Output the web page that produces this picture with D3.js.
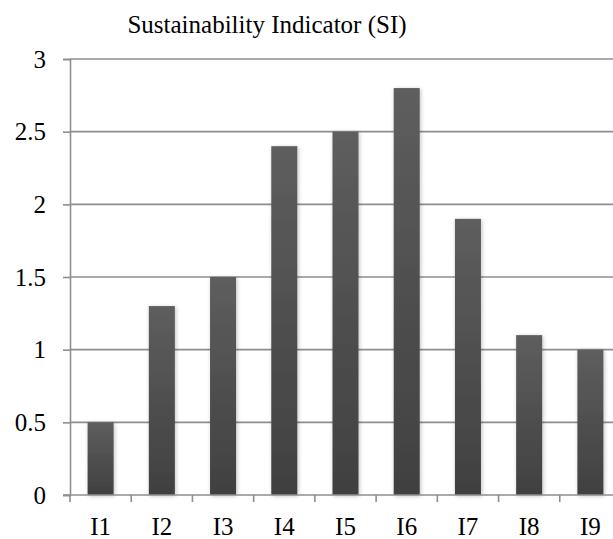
<!DOCTYPE html>
<html>
<head>
<meta charset="utf-8">
<script src="https://cdn.jsdelivr.net/npm/d3@7"></script>
<style>
  body { margin: 0; background: #fff; }
  svg { display: block; font-family: "Liberation Serif", "Times New Roman", serif; }
</style>
</head>
<body>
<svg id="chart" width="613" height="539"></svg>
<script>
// data
let categories = ['I1', 'I2', 'I3', 'I4', 'I5', 'I6', 'I7', 'I8', 'I9'];
let values = [0.5, 1.3, 1.5, 2.4, 2.5, 2.8, 1.9, 1.1, 1.0];
let yTicks = [0, 0.5, 1, 1.5, 2, 2.5, 3];
let title = 'Sustainability Indicator (SI)';

let margin = {left: 70, top: 59, right: -8, bottom: 44};
let width = 613, height = 539;

let svg = d3.select('#chart');

let x = d3.scaleBand()
  .domain(categories)
  .range([margin.left, width - margin.right])
  .paddingInner(0.575)
  .paddingOuter(0.2875);

let y = d3.scaleLinear()
  .domain([0, 3])
  .range([height - margin.bottom, margin.top]);

// gradient for bars
let defs = svg.append('defs');
let grad = defs.append('linearGradient')
  .attr('id', 'barGrad')
  .attr('x1', 0).attr('y1', 0).attr('x2', 0).attr('y2', 1);
grad.append('stop').attr('offset', '0%').attr('stop-color', '#5e5e5e');
grad.append('stop').attr('offset', '100%').attr('stop-color', '#404040');

let shadow = defs.append('filter').attr('id', 'shadow')
  .attr('x', '-30%').attr('y', '-10%').attr('width', '160%').attr('height', '120%');
shadow.append('feGaussianBlur').attr('in', 'SourceAlpha').attr('stdDeviation', 2);
shadow.append('feOffset').attr('dx', 1).attr('dy', 1).attr('result', 'b');
shadow.append('feComponentTransfer').append('feFuncA').attr('type', 'linear').attr('slope', 0.25);
let merge = shadow.append('feMerge');
merge.append('feMergeNode');
merge.append('feMergeNode').attr('in', 'SourceGraphic');

// gridlines
svg.append('g')
  .selectAll('line')
  .data(yTicks.filter(d => d > 0))
  .enter()
  .append('line')
  .attr('x1', margin.left)
  .attr('x2', width)
  .attr('y1', d => y(d))
  .attr('y2', d => y(d))
  .attr('stroke', '#8e8e8e')
  .attr('stroke-width', 1.6);

// y axis
let yAxis = d3.axisLeft(y)
  .tickValues(yTicks)
  .tickSize(7)
  .tickPadding(17)
  .tickFormat(d3.format('~g'));

let gy = svg.append('g')
  .attr('transform', 'translate(' + margin.left + ',0)')
  .call(yAxis);
gy.select('.domain').attr('stroke', '#8e8e8e').attr('stroke-width', 1.6);
gy.selectAll('.tick line').attr('stroke', '#8e8e8e').attr('stroke-width', 1.6);
gy.selectAll('.tick text')
  .attr('fill', '#000')
  .style('font-size', '25px')
  .style('font-family', '"Liberation Serif", serif');

// bars
svg.append('g')
  .selectAll('rect')
  .data(values)
  .enter()
  .append('rect')
  .attr('x', (d, i) => x(categories[i]))
  .attr('y', d => y(d))
  .attr('width', x.bandwidth())
  .attr('height', d => y(0) - y(d))
  .attr('fill', 'url(#barGrad)')
  .attr('filter', 'url(#shadow)');

// x axis
let step = x.step();
let xAxis = d3.axisBottom(x).tickSize(0).tickPadding(22);
let gx = svg.append('g')
  .attr('transform', 'translate(0,' + y(0) + ')')
  .call(xAxis);
gx.select('.domain').remove();
gx.selectAll('.tick text')
  .attr('fill', '#000')
  .attr('dy', 0)
  .attr('y', 40)
  .style('font-size', '25px')
  .style('font-family', '"Liberation Serif", serif');

gx.append('line')
  .attr('x1', margin.left - 7)
  .attr('x2', width)
  .attr('y1', 0).attr('y2', 0)
  .attr('stroke', '#8e8e8e')
  .attr('stroke-width', 1.6);

gx.selectAll('.sep')
  .data(d3.range(categories.length + 1))
  .enter()
  .append('line')
  .attr('class', 'sep')
  .attr('x1', i => margin.left + i * step)
  .attr('x2', i => margin.left + i * step)
  .attr('y1', 0)
  .attr('y2', 7)
  .attr('stroke', '#8e8e8e')
  .attr('stroke-width', 1.6);

// title
svg.append('text')
  .attr('x', 267)
  .attr('y', 33)
  .attr('text-anchor', 'middle')
  .style('font-size', '25px')
  .text(title);
</script>
</body>
</html>
